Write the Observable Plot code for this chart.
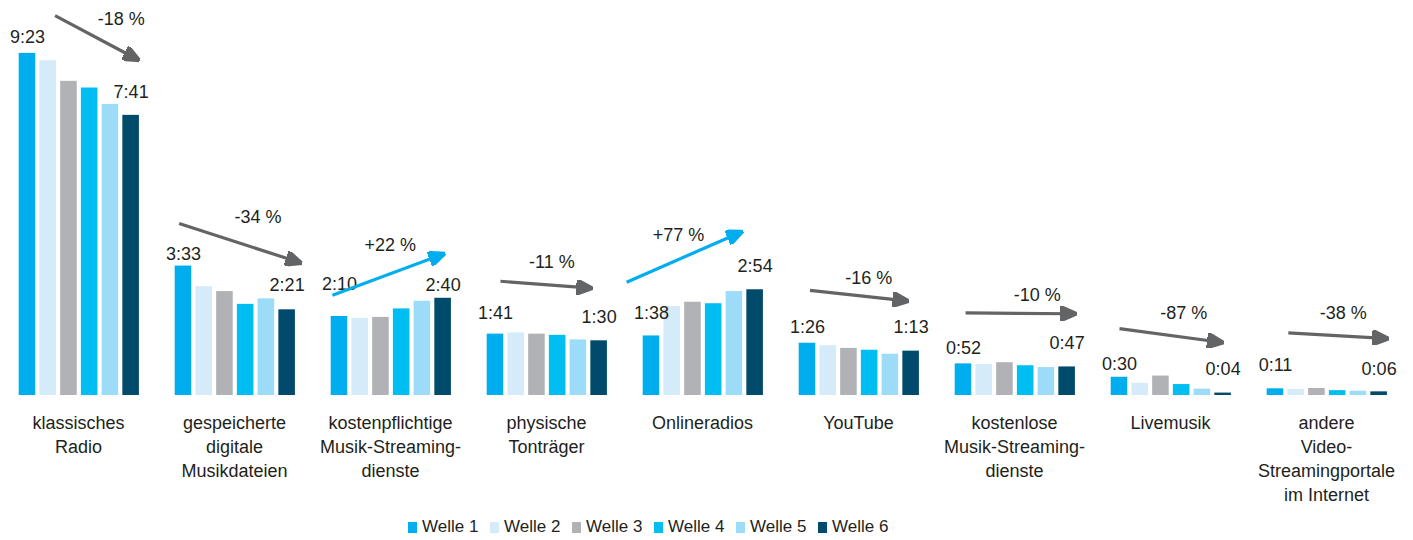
<!DOCTYPE html>
<html>
<head>
<meta charset="utf-8">
<script src="https://cdn.jsdelivr.net/npm/d3@7"></script>
<script src="https://cdn.jsdelivr.net/npm/@observablehq/plot@0.6"></script>
<style>
  html, body { margin: 0; padding: 0; background: #ffffff; }
  body { font-family: "Liberation Sans", Arial, sans-serif; color: #231f20; }
  #legend { display: flex; padding-left: 408px; height: 26px; align-items: center; font-size: 17px; }
  #legend .item { display: inline-flex; align-items: center; width: 82px; white-space: nowrap; }
  #legend .sw { display: inline-block; width: 9px; height: 11px; margin-right: 5px; }
</style>
</head>
<body>
<div id="chart"></div>
<div id="legend"></div>
<script>
// ---- data (minutes per week) ----
const categories = ["klassisches Radio", "gespeicherte digitale Musikdateien", "kostenpflichtige Musik-Streamingdienste", "physische Tonträger", "Onlineradios", "YouTube", "kostenlose Musik-Streamingdienste", "Livemusik", "andere Video-Streamingportale im Internet"];
const categoryLabels = ["klassisches\nRadio", "gespeicherte\ndigitale\nMusikdateien", "kostenpflichtige\nMusik-Streaming-\ndienste", "physische\nTonträger", "Onlineradios", "YouTube", "kostenlose\nMusik-Streaming-\ndienste", "Livemusik", "andere\nVideo-\nStreamingportale\nim Internet"];
const waves = ["Welle 1", "Welle 2", "Welle 3", "Welle 4", "Welle 5", "Welle 6"];
const waveColors = ["#00adef", "#d5ebf9", "#b1b2b6", "#00bdf2", "#9ddcf8", "#004b6c"];

const welle1 = [563, 213, 130, 101, 98, 86, 52, 30, 11];
const welle2 = [551, 179, 127, 103, 146.5, 82, 51, 20, 10];
const welle3 = [517, 171, 128.5, 101, 153.5, 77.5, 54, 32, 11.5];
const welle4 = [506, 150, 142.5, 99, 151, 74.5, 49, 18, 8];
const welle5 = [479, 159, 155, 91.5, 171, 68, 46, 10.5, 7];
const welle6 = [461, 141, 160, 90, 174, 73, 47, 4, 6];

const changes = ["-18 %", "-34 %", "+22 %", "-11 %", "+77 %", "-16 %", "-10 %", "-87 %", "-38 %"];

// ---- annotation anchors, in data units (wave index / minutes) ----
const arrowFromX = [2.33, 0.79, 0.66, 1.24, -0.2, 1.12, 1.1, 1.0, 1.62];
const arrowToX   = [6.2, 6.5, 5.88, 5.47, 5.2, 5.67, 6.23, 5.8, 6.24];
const arrowFromY = [625, 283, 165, 188, 186.5, 173, 136, 110, 103];
const arrowToY   = [555, 220, 231, 177, 267, 156, 134.5, 88, 94];
const changeX    = [5.52, 4.6, 3.45, 3.72, 2.3, 3.96, 4.56, 4.1, 4.27];
const changeY    = [619, 294, 247, 220, 263, 193, 165, 135, 135];
const firstLabelY = [590, 233, 183, 135, 135.5, 112, 77, 52, 49.5];
const lastLabelY  = [499, 181, 181, 129, 213.5, 112, 86.5, 43, 44];

// ---- build tables ----
const series = [welle1, welle2, welle3, welle4, welle5, welle6];
const bars = [];
categories.forEach((c, i) => series.forEach((s, j) => bars.push({category: c, wave: waves[j], w: j + 1, value: s[i]})));

const fmt = (m) => `${Math.floor(m / 60)}:${String(Math.round(m % 60)).padStart(2, "0")}`;
const ann = categories.map((c, i) => ({
  category: c,
  up: changes[i].startsWith("+"),
  change: changes[i],
  ax1: arrowFromX[i], ax2: arrowToX[i], ay1: arrowFromY[i], ay2: arrowToY[i],
  cx: changeX[i], cy: changeY[i],
  first: fmt(welle1[i]), last: fmt(welle6[i]),
  fy: firstLabelY[i], ly: lastLabelY[i]
}));
const labelOf = new Map(categories.map((c, i) => [c, categoryLabels[i]]));

function triangleMarker(color, context) {
  const ns = "http://www.w3.org/2000/svg";
  const doc = (context && context.document) || document;
  const m = doc.createElementNS(ns, "marker");
  m.setAttribute("viewBox", "0 -7.5 17 15");
  m.setAttribute("markerWidth", 17);
  m.setAttribute("markerHeight", 15);
  m.setAttribute("markerUnits", "userSpaceOnUse");
  m.setAttribute("refX", 12);
  m.setAttribute("refY", 0);
  m.setAttribute("orient", "auto");
  const p = doc.createElementNS(ns, "path");
  p.setAttribute("d", "M0,-7.5L17,0L0,7.5Z");
  p.setAttribute("fill", color);
  m.appendChild(p);
  return m;
}

const grey = "#636466", blue = "#00adef", ink = "#231f20";
const font = '"Liberation Sans", Arial, sans-serif';

const chart = Plot.plot({
  width: 1413,
  height: 514,
  marginLeft: 0,
  marginRight: 4,
  marginTop: 0,
  marginBottom: 119,
  style: {fontFamily: font, fontSize: "18px", color: ink, background: "#fff"},
  fx: {domain: categories, padding: 0, label: null},
  x: {domain: [-0.157, 7.369], axis: null},
  y: {domain: [0, 650], axis: null},
  color: {domain: waves, range: waveColors},
  marks: [
    Plot.axisFx({anchor: "bottom", tickSize: 0, tickPadding: 17, dx: -3, fontSize: 18, lineHeight: 1.33, fill: ink, tickFormat: (d) => labelOf.get(d), label: null}),
    Plot.rect(bars, {fx: "category", x1: (d) => d.w - 0.4, x2: (d) => d.w + 0.4, y1: 0, y2: "value", fill: "wave"}),
    Plot.text(ann, {fx: "category", x: () => 1, y: "fy", text: "first", fill: ink, fontSize: 18}),
    Plot.text(ann, {fx: "category", x: () => 6, y: "ly", text: "last", fill: ink, fontSize: 18}),
    Plot.link(ann.filter((d) => !d.up), {fx: "category", x1: "ax1", y1: "ay1", x2: "ax2", y2: "ay2", stroke: grey, strokeWidth: 3.2, markerEnd: triangleMarker}),
    Plot.link(ann.filter((d) => d.up), {fx: "category", x1: "ax1", y1: "ay1", x2: "ax2", y2: "ay2", stroke: blue, strokeWidth: 3.2, markerEnd: triangleMarker}),
    Plot.text(ann, {fx: "category", x: "cx", y: "cy", text: "change", fill: ink, fontSize: 18})
  ]
});
document.getElementById("chart").appendChild(chart);

// ---- legend ----
const legend = document.getElementById("legend");
waves.forEach((w, i) => {
  const item = document.createElement("span");
  item.className = "item";
  const sw = document.createElement("span");
  sw.className = "sw";
  sw.style.background = waveColors[i];
  item.appendChild(sw);
  item.appendChild(document.createTextNode(w));
  legend.appendChild(item);
});
</script>
</body>
</html>
